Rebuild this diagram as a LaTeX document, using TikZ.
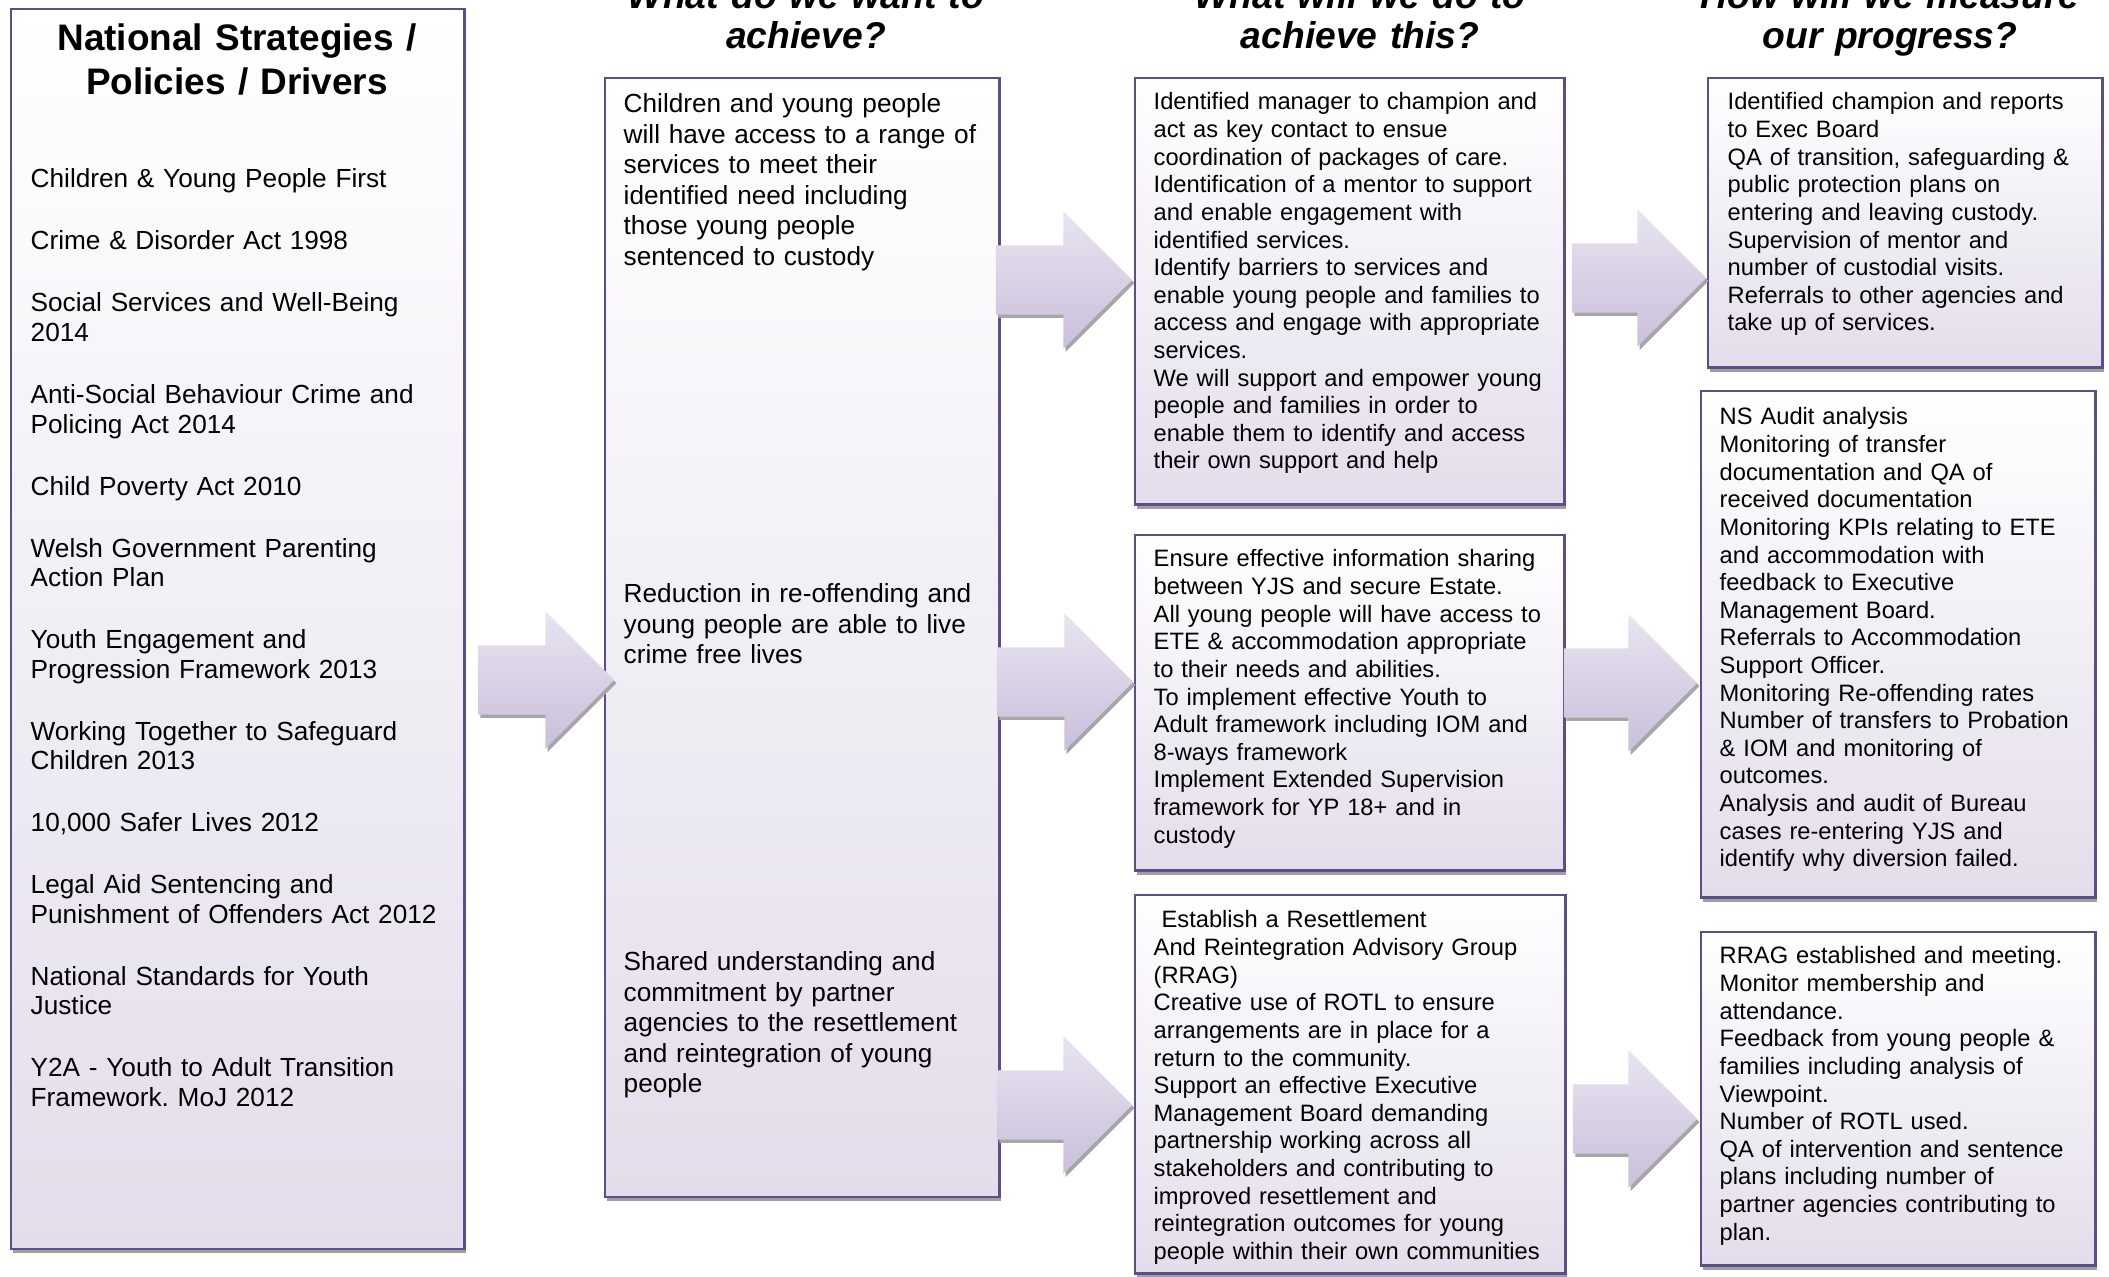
\documentclass[tikz,border=0pt]{standalone}
\usepackage{fontspec}
\setmainfont{Liberation Sans}
\usetikzlibrary{shapes.arrows,shadows}
\frenchspacing

\definecolor{panelline}{HTML}{5F4C8A}
\definecolor{panelfill}{HTML}{E3DDEB}
\definecolor{arrowtop}{HTML}{E8E4F0}
\definecolor{arrowbot}{HTML}{CABFDB}

\tikzset{
  panel/.style={draw=panelline, line width=0.7pt, inner sep=0pt, anchor=north west,
    top color=white, bottom color=panelfill,
    drop shadow={shadow xshift=0.4pt, shadow yshift=-1.2pt, fill=black!38, opacity=1}},
  blockarrow/.style={single arrow, single arrow head extend=0.34cm,
    inner xsep=0pt, inner ysep=0.34cm, anchor=tip, top color=arrowtop, bottom color=arrowbot,
    drop shadow={shadow xshift=0.7pt, shadow yshift=-0.9pt, fill=black!35, opacity=1}},
  bigtxt/.style={anchor=base west, inner sep=0pt, text width=5cm, align=left,
    font=\fontsize{7.45}{8.65}\selectfont},
  smalltxt/.style={anchor=base west, inner sep=0pt, text width=5cm, align=left,
    font=\fontsize{6.74}{7.85}\selectfont},
  heading/.style={anchor=base, inner sep=0pt, text width=6cm, align=center,
    font=\fontsize{10.6}{11.1}\selectfont\bfseries\itshape},
}

\begin{document}
\begin{tikzpicture}[x=0.01cm, y=-0.01cm]
    % page area, headings run off the top edge
    \useasboundingbox (0,0) rectangle (2109,1277);
    \clip (0,0) rectangle (2109,1277);

    % Panels:
    \node [panel, minimum width=4.53cm, minimum height=12.39cm] (drivers) at (10,8) {};
    \node [panel, minimum width=3.94cm, minimum height=11.18cm] (aims) at (604,77) {};
    \node [panel, minimum width=4.29cm, minimum height=4.26cm] (doA) at (1134,77) {};
    \node [panel, minimum width=4.29cm, minimum height=3.35cm] (doB) at (1134,534) {};
    \node [panel, minimum width=4.30cm, minimum height=3.78cm] (doC) at (1134,894) {};
    \node [panel, minimum width=3.94cm, minimum height=2.89cm] (measA) at (1707,77) {};
    \node [panel, minimum width=3.94cm, minimum height=5.06cm] (measB) at (1700,390) {};
    \node [panel, minimum width=3.94cm, minimum height=3.33cm] (measC) at (1700,931) {};

    % Block arrows, given by their tip and length:
    \foreach \nm/\tx/\ty/\len in {arrDrv/615/680/1.36, arrDoA/1133/280/1.36,
        arrDoB/1134/682/1.36, arrDoC/1133/1105/1.35, arrMeasA/1707/278/1.34,
        arrMeasB/1698/683/1.33, arrMeasC/1698/1119/1.24}{%
        \node [blockarrow, minimum height=\len cm] (\nm) at (\tx,\ty) {};
    }

    % Headings:
    \node [heading] (hdrAims) at (806,9) {What do we want to\\achieve?};
    \node [heading] (hdrDo) at (1360,9) {What will we do to\\achieve this?};
    \node [heading] (hdrMeas) at (1890,9) {How will we measure\\our progress?};

    % Drivers:
    \node [heading, font=\fontsize{10.5}{12.4}\selectfont\bfseries] (drvTitle) at (237,51)
        {National Strategies /\\Policies / Drivers};
    \node [bigtxt, font=\fontsize{7.45}{8.42}\selectfont] (drvList) at (30,188)
        {Children \& Young People First\\[9.2pt]
        Crime \& Disorder Act 1998\\[9.2pt]
        Social Services and Well-Being\\2014\\[9.2pt]
        Anti-Social Behaviour Crime and\\Policing Act 2014\\[9.2pt]
        Child Poverty Act 2010\\[9.2pt]
        Welsh Government Parenting\\Action Plan\\[9.2pt]
        Youth Engagement and\\Progression Framework 2013\\[9.2pt]
        Working Together to Safeguard\\Children 2013\\[9.2pt]
        10,000 Safer Lives 2012\\[9.2pt]
        Legal Aid Sentencing and\\Punishment of Offenders Act 2012\\[9.2pt]
        National Standards for Youth\\Justice\\[9.2pt]
        Y2A - Youth to Adult Transition\\Framework. MoJ 2012};

    % What do we want to achieve?
    \node [bigtxt] (aimA) at (623,113) {Children and young people\\will have access to a range of\\services to meet their\\identified need including\\those young people\\sentenced to custody};
    \node [bigtxt] (aimB) at (623,603) {Reduction in re-offending and\\young people are able to live\\crime free lives};
    \node [bigtxt] (aimC) at (623,971) {Shared understanding and\\commitment by partner\\agencies to the resettlement\\and reintegration of young\\people};

    % What will we do?
    \node [smalltxt] (doAtxt) at (1153,110) {Identified manager to champion and\\act as key contact to ensue\\coordination of packages of care.\\Identification of a mentor to support\\and enable engagement with\\identified services.\\Identify barriers to services and\\enable young people and families to\\access and engage with appropriate\\services.\\We will support and empower young\\people and families in order to\\enable them to identify and access\\their own support and help};
    \node [smalltxt] (doBtxt) at (1153,567) {Ensure effective information sharing\\between YJS and secure Estate.\\All young people will have access to\\ETE \& accommodation appropriate\\to their needs and abilities.\\To implement effective Youth to\\Adult framework including IOM and\\8-ways framework\\Implement Extended Supervision\\framework for YP 18+ and in\\custody};
    \node [smalltxt] (doCtxt) at (1153,928) {\ Establish a Resettlement\\And Reintegration Advisory Group\\(RRAG)\\Creative use of ROTL to ensure\\arrangements are in place for a\\return to the community.\\Support an effective Executive\\Management Board demanding\\partnership working across all\\stakeholders and contributing to\\improved resettlement and\\reintegration outcomes for young\\people within their own communities};

    % How will we measure?
    \node [smalltxt] (measAtxt) at (1727,110) {Identified champion and reports\\to Exec Board\\QA of transition, safeguarding \&\\public protection plans on\\entering and leaving custody.\\Supervision of mentor and\\number of custodial visits.\\Referrals to other agencies and\\take up of services.};
    \node [smalltxt] (measBtxt) at (1719,425) {NS Audit analysis\\Monitoring of transfer\\documentation and QA of\\received documentation\\Monitoring KPIs relating to ETE\\and accommodation with\\feedback to Executive\\Management Board.\\Referrals to Accommodation\\Support Officer.\\Monitoring Re-offending rates\\Number of transfers to Probation\\\& IOM and monitoring of\\outcomes.\\Analysis and audit of Bureau\\cases re-entering YJS and\\identify why diversion failed.};
    \node [smalltxt] (measCtxt) at (1719,964) {RRAG established and meeting.\\Monitor membership and\\attendance.\\Feedback from young people \&\\families including analysis of\\Viewpoint.\\Number of ROTL used.\\QA of intervention and sentence\\plans including number of\\partner agencies contributing to\\plan.};
\end{tikzpicture}
\end{document}
